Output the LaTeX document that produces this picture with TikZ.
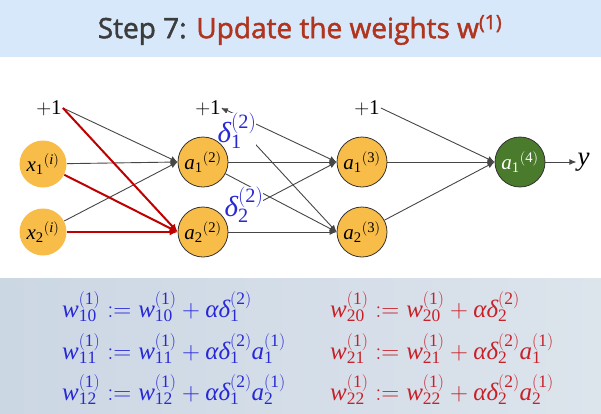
\documentclass[tikz,border=0pt]{standalone}
\usepackage{fontspec}
\setmainfont{Liberation Serif}
\setsansfont{Open Sans}
\newfontfamily\titlefont{Open Sans}[FakeBold=1.6]
\usetikzlibrary{arrows.meta,positioning,backgrounds}
\newcommand{\vw}{\mathit{w}}
\newcommand{\va}{\mathit{a}}
\newcommand{\vx}{\mathit{x}}
\newcommand{\gd}{\mbox{\itshape δ}}
\newcommand{\ga}{\mbox{\itshape α}}
\newcommand{\lay}[1]{^{\mathrm{(#1)}}}
\newcommand{\ix}[1]{_{\mathrm{#1}}}
\definecolor{bandblue}{RGB}{214,232,250}
\definecolor{bandleft}{RGB}{204,215,228}
\definecolor{bandright}{RGB}{220,228,236}
\definecolor{titlegray}{RGB}{60,60,60}
\definecolor{titlered}{RGB}{176,52,30}
\definecolor{unitfill}{RGB}{248,188,72}
\definecolor{outfill}{RGB}{74,122,43}
\definecolor{edgegray}{RGB}{70,70,70}
\definecolor{deltablue}{RGB}{40,40,215}
\definecolor{eqred}{RGB}{200,32,40}
\tikzset{
  neuron/.style={circle, fill=unitfill, draw=black!80, line width=0.8pt, minimum size=50pt, inner sep=0pt, font=\fontsize{21}{24}\selectfont},
  inp/.style={neuron, draw=none, minimum size=47pt},
  outp/.style={neuron, fill=outfill, text=white},
  bias/.style={inner sep=1pt, font=\fontsize{21}{24}\selectfont},
  dlabel/.style={text=deltablue, fill=white, inner sep=0pt, font=\fontsize{29}{30}\selectfont},
  arr/.style={-{Latex[length=7pt,width=6pt]}, draw=edgegray, line width=0.9pt},
  hot/.style={-{Latex[length=8pt,width=7pt]}, draw=red!75!black, line width=2pt},
  eq/.style={anchor=base west, inner sep=0pt, font=\fontsize{25}{28}\selectfont}
}

\begin{document}
\begin{tikzpicture}[x=1pt, y=-1pt]
\useasboundingbox (0,0) rectangle (601,413);
\fill[bandblue] (0,0) rectangle (601,57);
\shade[left color=bandleft, right color=bandright] (0,278) rectangle (601,413);
\node[font=\titlefont\fontsize{28}{34}\selectfont] (title) at (300,30) {\textcolor{titlegray}{Step 7:} \textcolor{titlered}{Update the weights w\textsuperscript{(1)}}};

% units
\node[bias] (b1) at (49,108) {$+\mathrm{1}$};
\node[inp] (x1) at (43,164) {${\vx\ix{1}}^{(\mathit{i})}$};
\node[inp] (x2) at (43,232) {${\vx\ix{2}}^{(\mathit{i})}$};
\node[bias] (b2) at (208,108) {$+\mathrm{1}$};
\node[neuron] (a12) at (203,162) {${\va\ix{1}}\lay{2}$};
\node[neuron] (a22) at (203,232) {${\va\ix{2}}\lay{2}$};
\node[bias] (b3) at (367,108) {$+\mathrm{1}$};
\node[neuron] (a13) at (362,162) {${\va\ix{1}}\lay{3}$};
\node[neuron] (a23) at (362,232) {${\va\ix{2}}\lay{3}$};
\node[outp] (a14) at (520,162) {${\va\ix{1}}\lay{4}$};
\node[bias, right=31pt of a14, font=\fontsize{27}{28}\selectfont] (y) {$\mathit{y}$};

\begin{scope}[on background layer]
\draw[arr] (b1.east) -- (a12.west); \draw[arr] (x1) -- (a12.west); \draw[arr] (x2) -- (a12.west);
\draw[hot] (b1.east) -- (a22.west); \draw[hot] (x1) -- (a22.west); \draw[hot] (x2) -- (a22.west);
\draw[arr, {Latex[length=6pt,width=5pt]}-{Latex[length=7pt,width=6pt]}] (b2.east) -- (a13.west); \draw[arr] (b2.east) -- (a23.west);
\draw[arr] (a12) -- (a13.west); \draw[arr] (a12) -- (a23.west); \draw[arr] (a22) -- (a13.west); \draw[arr] (a22) -- (a23.west);
\draw[arr] (b3.east) -- (a14.west); \draw[arr] (a13) -- (a14.west); \draw[arr] (a23) -- (a14.west);
\node[dlabel] (d1) at (237,131) {$\gd\ix{1}\lay{2}$};
\node[dlabel] (d2) at (244,205) {$\gd\ix{2}\lay{2}$};
\end{scope}
\draw[arr] (a14) -- (y);

% update rules
\node[eq, text=deltablue] (e10) at (62,317) {$\vw\ix{10}\lay{1} \mathrel{:=} \vw\ix{10}\lay{1} + \ga\gd\ix{1}\lay{2}$};
\node[eq, text=deltablue] (e11) at (62,359) {$\vw\ix{11}\lay{1} \mathrel{:=} \vw\ix{11}\lay{1} + \ga\gd\ix{1}\lay{2}\va\ix{1}\lay{1}$};
\node[eq, text=deltablue] (e12) at (62,400) {$\vw\ix{12}\lay{1} \mathrel{:=} \vw\ix{12}\lay{1} + \ga\gd\ix{1}\lay{2}\va\ix{2}\lay{1}$};
\node[eq, text=eqred] (e20) at (330,317) {$\vw\ix{20}\lay{1} \mathrel{:=} \vw\ix{20}\lay{1} + \ga\gd\ix{2}\lay{2}$};
\node[eq, text=eqred] (e21) at (330,359) {$\vw\ix{21}\lay{1} \mathrel{:=} \vw\ix{21}\lay{1} + \ga\gd\ix{2}\lay{2}\va\ix{1}\lay{1}$};
\node[eq, text=eqred] (e22) at (330,400) {$\vw\ix{22}\lay{1} \mathrel{:=} \vw\ix{22}\lay{1} + \ga\gd\ix{2}\lay{2}\va\ix{2}\lay{1}$};
\end{tikzpicture}
\end{document}
